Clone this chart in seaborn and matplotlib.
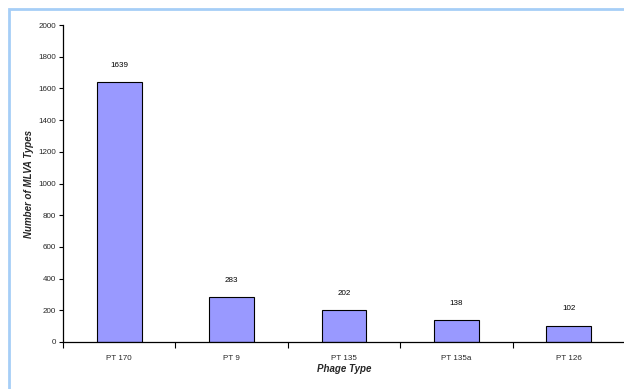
import matplotlib
matplotlib.use("Agg")
import matplotlib.pyplot as plt
import seaborn as sns
import pandas as pd
from matplotlib.patches import Rectangle

categories = ["PT 170", "PT 9", "PT 135", "PT 135a", "PT 126"]
counts = [1639, 283, 202, 138, 102]
yticks = [0, 200, 400, 600, 800, 1000, 1200, 1400, 1600, 1800, 2000]

sns.set_theme(style="white")
plt.rcParams['font.family'] = ['Liberation Sans', 'DejaVu Sans']

df = pd.DataFrame({"Phage Type": categories, "Count": counts})

fig = plt.figure(figsize=(6.24, 3.89), dpi=100)
ax = fig.add_axes([63/624, 1-342/389, (625-63)/624, (342-25)/389])

sns.barplot(data=df, x="Phage Type", y="Count", ax=ax, color="#9999FF",
            saturation=1, width=0.4, edgecolor="black", linewidth=0.8)

for i, v in enumerate(counts):
    ax.text(i, v + 85, str(v), ha="center", va="bottom", fontsize=5.8, color="black")

ax.set_xlim(-0.5, 4.5)
ax.set_ylim(0, 2000)
ax.set_yticks(yticks)
ax.set_yticklabels([str(t) for t in yticks], fontsize=5.8)
ax.set_xticks(range(len(categories)))
ax.set_xticklabels(categories, fontsize=5.8)
ax.set_xticks([-0.5, 0.5, 1.5, 2.5, 3.5], minor=True)
ax.tick_params(axis="x", which="major", length=0, pad=9)
ax.tick_params(axis="x", which="minor", length=4, width=0.8, direction="out", color="black", bottom=True)
ax.tick_params(axis="y", which="major", length=3, width=0.8, direction="out", color="black", left=True, pad=2)

for s in ["top", "right"]:
    ax.spines[s].set_visible(False)
for s in ["left", "bottom"]:
    ax.spines[s].set_color("black")
    ax.spines[s].set_linewidth(0.9)

ax.set_xlabel("Phage Type", fontsize=7, fontweight="bold", fontstyle="italic", labelpad=2)
ax.set_ylabel("Number of MLVA Types", fontsize=7, fontweight="bold", fontstyle="italic", labelpad=3)
ax.grid(False)

fig.patches.append(Rectangle((9/624, -0.05), 1.1, 1 - 9/389 + 0.05, transform=fig.transFigure,
                             fill=False, edgecolor="#A6CEF7", linewidth=2, zorder=0))

fig.savefig("out.png", dpi=100)
